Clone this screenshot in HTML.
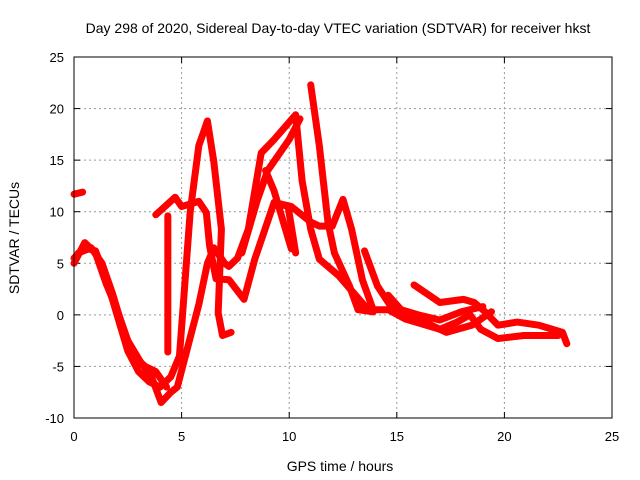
<!DOCTYPE html>
<html><head><meta charset="utf-8"><style>
body{margin:0;background:#fff;}
svg{display:block;font-family:"Liberation Sans",sans-serif;}
</style></head><body>
<svg id="chart" width="640" height="480" viewBox="0 0 640 480">
<rect x="0" y="0" width="640" height="480" fill="#fff"/>
<text x="338" y="33" text-anchor="middle" font-size="14">Day 298 of 2020, Sidereal Day-to-day VTEC variation (SDTVAR) for receiver hkst</text>
<text x="340" y="471" text-anchor="middle" font-size="14">GPS time / hours</text>
<text transform="translate(19,238) rotate(-90)" text-anchor="middle" font-size="14">SDTVAR / TECUs</text>
<g id="grid"></g><g id="ticks"></g><g id="series"></g>
<rect x="74" y="57" width="538" height="361" fill="none" stroke="#000" stroke-width="1"/>
</svg>
<script>
const xTicks=[0,5,10,15,20,25];
const yTicks=[-10,-5,0,5,10,15,20,25];
const s1=[[0,5],[0.5,7],[1,6],[1.5,3],[2,0.5],[2.5,-2.5],[3.1,-4.6],[3.6,-6],[4.05,-8.5],[4.5,-7.5],[4.8,-7],[5.3,-3],[5.8,1],[6.2,5],[6.5,6.5],[7,5],[7.2,4.7],[7.6,5.5],[8.1,8.3],[8.7,15.7],[9.3,17],[10.3,19.4],[10.6,13],[11,8.3],[11.4,5.4],[12.3,3.8],[13.5,0.9],[13.9,0.3]];
const s2=[[0,5.5],[0.5,6.5],[1,6.2],[1.5,3.5],[2,0],[2.5,-3.5],[3,-5.5],[3.5,-6.5],[4,-7],[4.5,-6],[4.9,-4],[5.4,10],[5.8,16.4],[6.2,18.8],[6.5,14.8],[6.85,8.3],[6.7,0.2],[6.9,-2],[7.3,-1.7]];
const s3=[[4.36,-3.6],[4.36,9.6]];
const s4=[[3.8,9.7],[4.7,11.4],[5,10.5],[5.8,11],[6.15,9.9],[6.3,6.7],[6.6,3.5],[7.2,3.4],[7.9,1.5],[8.4,5.4],[9.3,10.9],[9.95,10.5],[10.3,6]];
const s5=[[8.9,14],[9.3,12],[10.1,6.4]];
const s6=[[9.3,10.9],[10.1,10.5],[11,9],[11.4,8.6],[12,8.6],[12.5,11.2],[12.9,8.3],[13.4,3.4],[13.9,0.5],[14.6,0.5],[15.4,-0.4],[17,-1.4],[17.8,-0.7],[18.4,0],[18.9,-1.4],[19.7,-2.3],[20.9,-2],[22.5,-2]];
const s7=[[11,22.3],[11.4,16.4],[11.8,9],[12.1,6],[12.8,2.8],[13.2,0.5],[13.9,0.3]];
const s8=[[13.5,6.2],[14.1,2.8],[14.7,0.9],[16,-0.4],[17.3,-1.7],[18.5,-1],[19.4,0.3]];
const s9=[[15.8,2.9],[17,1.2],[18.1,1.5],[18.6,1.2],[19.1,0.3],[19.7,-1],[20.6,-0.7],[21.6,-1],[22.7,-1.7],[22.9,-2.8]];
const s10=[[14.6,1.9],[15.2,0.5],[16,0],[17,-0.5],[18,0.3],[19,0.8]];
const s11=[[0,11.7],[0.4,11.9]];
const s12=[[0.2,6],[0.8,6.5],[1.3,5],[1.8,2],[2.3,-1.5],[2.8,-4],[3.3,-5],[3.8,-5.5],[4.3,-7]];
const s13=[[7.8,6],[8.5,11],[9,14],[9.5,15.5],[10,17],[10.5,19]];
const allSeries=[s1,s2,s3,s4,s5,s6,s7,s8,s9,s10,s11,s12,s13];
const X0=74,X1=612,Y0=418,Y1=57;
const xs=v=>X0+(v-0)/(25-0)*(X1-X0);
const ys=v=>Y0-(v+10)/(35)*(Y0-Y1);
const NS="http://www.w3.org/2000/svg";
const grid=document.getElementById('grid'),ticks=document.getElementById('ticks'),ser=document.getElementById('series');
function mk(t,a,p){const e=document.createElementNS(NS,t);for(const k in a)e.setAttribute(k,a[k]);p.appendChild(e);return e;}
xTicks.forEach(v=>{
 const x=xs(v);
 if(v>0&&v<25){const g=mk('line',{x1:x,x2:x,y1:Y1,y2:Y0,stroke:'#999','stroke-dasharray':'2,3'},grid);
 
 }
 const t=mk('text',{x:x,y:441,'text-anchor':'middle','font-size':'13'},ticks);t.textContent=v;
 
 
 mk('line',{x1:x,x2:x,y1:Y0,y2:Y0-6,stroke:'#000'},ticks);mk('line',{x1:x,x2:x,y1:Y1,y2:Y1+6,stroke:'#000'},ticks);
});
yTicks.forEach(v=>{
 const y=ys(v);
 if(v>-10&&v<25){const g=mk('line',{x1:X0,x2:X1,y1:y,y2:y,stroke:'#999','stroke-dasharray':'2,3'},grid);
 
 }
 const t=mk('text',{x:64,y:y+5,'text-anchor':'end','font-size':'13'},ticks);t.textContent=v;
 
 
 mk('line',{x1:X0,x2:X0+6,y1:y,y2:y,stroke:'#000'},ticks);mk('line',{x1:X1,x2:X1-6,y1:y,y2:y,stroke:'#000'},ticks);
});
allSeries.forEach((s,i)=>{
 const p=mk('polyline',{points:s.map(d=>xs(d[0])+','+ys(d[1])).join(' '),fill:'none',stroke:'#f00','stroke-width':'7','stroke-linejoin':'round','stroke-linecap':'round'},ser);
 
 
});
</script>
</body></html>
